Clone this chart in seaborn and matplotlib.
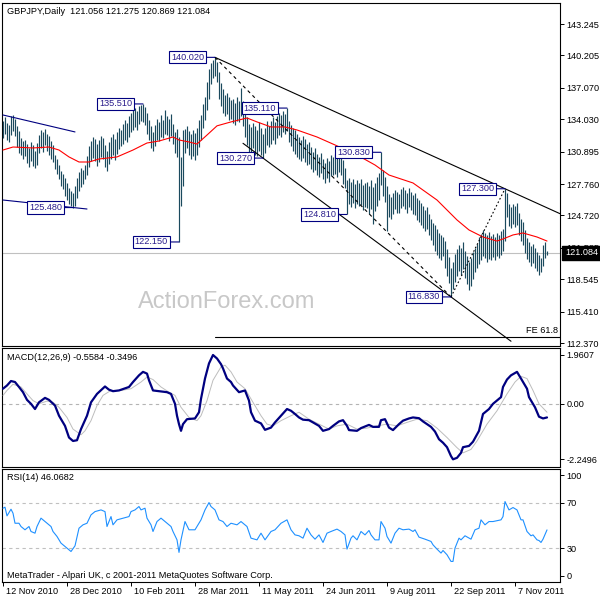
import numpy as np
import pandas as pd
import matplotlib
matplotlib.use("Agg")
import matplotlib.pyplot as plt
import seaborn as sns

# ---------------- data ----------------
high = [
    133.9, 134.2, 133.7, 133.5, 134.3, 134.4, 134.1, 133.4, 132.9, 132.2,
    131.9, 132.0, 131.6, 131.2, 131.8, 131.5, 131.0, 131.7, 132.5, 133.0,
    132.8, 133.1, 132.6, 132.4, 131.9, 131.5, 130.6, 130.2, 129.6, 129.0,
    128.7, 128.3, 127.9, 127.4, 127.1, 126.9, 127.6, 128.3, 128.9, 129.3,
    129.1, 129.6, 130.5, 131.4, 131.9, 132.3, 132.1, 131.6, 132.0, 132.4,
    132.2, 131.5, 131.0, 131.8, 132.3, 132.6, 132.1, 132.8, 133.2, 133.0,
    133.6, 134.0, 133.7, 134.3, 134.6, 134.9, 135.1, 134.8, 135.3, 135.4,
    135.51, 135.2, 134.6, 134.0, 133.4, 132.8, 133.5, 134.1, 133.8, 134.4,
    134.0, 134.9, 134.3, 134.1, 134.5, 133.6, 132.8, 133.1, 132.3, 130.4,
    133.0, 133.1, 133.4, 132.9, 132.6, 133.0, 132.7, 133.2, 134.0, 134.4,
    135.5, 136.2, 137.6, 138.9, 139.5, 139.8, 140.02, 139.6, 138.6, 137.5,
    137.0, 136.4, 136.6, 136.2, 135.9, 136.0, 135.6, 136.2, 135.8, 137.05,
    135.8, 135.0, 134.2, 133.6, 133.3, 133.7, 133.4, 133.0, 133.8, 133.2,
    132.6, 133.2, 133.9, 133.4, 133.9, 134.2, 133.8, 134.3, 134.6, 134.4,
    134.8, 134.5, 135.11, 133.9, 133.5, 133.2, 133.0, 132.6, 132.3, 132.0,
    132.4, 132.1, 131.6, 131.8, 131.3, 130.9, 131.2, 130.7, 130.4, 130.8,
    130.2, 129.8, 130.3, 130.0, 130.6, 130.4, 130.7, 130.5, 130.8, 130.6,
    130.1, 129.3, 128.1, 128.3, 128.0, 128.2, 127.8, 128.1, 127.9, 128.2,
    127.7, 127.9, 128.0, 127.6, 128.1, 127.5, 127.9, 128.4, 128.8, 130.83,
    129.1, 128.4, 127.6, 126.8, 126.5, 126.9, 127.2, 127.0, 126.8, 127.3,
    127.5, 127.2, 126.9, 127.4, 127.0, 126.7, 126.9, 126.4, 126.2, 125.9,
    125.6, 125.2, 125.5, 124.9, 124.4, 124.0, 123.8, 123.4, 123.0, 122.8,
    122.6, 122.2, 121.5, 120.7, 119.6, 120.2, 121.0, 121.5, 121.9, 121.6,
    122.1, 121.3, 120.8, 120.2, 120.6, 121.2, 121.6, 122.0, 122.6, 122.9,
    123.3, 123.0, 122.8, 123.1, 122.7, 122.9, 122.6, 123.0, 122.8, 123.2,
    123.4, 127.30, 126.9, 125.8, 125.5, 125.8, 125.6, 125.9, 125.0, 124.4,
    124.1, 123.3, 122.5, 122.1, 121.8, 122.0, 121.6, 121.2, 120.9, 120.6,
    121.9, 122.1, 121.275,
]
low = [
    132.2, 132.6, 132.0, 131.8, 132.5, 132.9, 132.4, 131.3, 130.8, 130.6,
    130.2, 130.5, 129.8, 129.4, 130.0, 129.5, 129.3, 129.6, 130.8, 131.2,
    130.9, 131.5, 131.0, 130.6, 130.2, 129.9, 129.2, 128.7, 128.2, 127.6,
    127.3, 126.6, 126.2, 125.8, 125.6, 125.48, 125.6, 126.4, 127.1, 127.5,
    127.8, 128.2, 128.6, 129.4, 130.0, 130.3, 130.0, 129.5, 129.9, 130.4,
    130.2, 129.4, 129.0, 129.7, 130.2, 130.6, 130.1, 130.7, 131.1, 131.4,
    131.6, 132.0, 131.8, 132.3, 132.8, 133.0, 133.3, 133.0, 133.6, 133.9,
    133.8, 133.5, 132.6, 132.0, 131.2, 131.0, 131.4, 132.0, 131.9, 132.3,
    132.2, 132.6, 132.5, 131.9, 132.4, 131.6, 130.8, 130.4, 122.15, 125.6,
    127.6, 130.8, 131.2, 130.6, 130.2, 130.5, 130.1, 130.6, 131.3, 132.0,
    133.2, 134.0, 134.9, 136.0, 137.4, 138.0, 138.2, 137.6, 136.0, 135.3,
    134.6, 134.3, 134.5, 134.0, 134.1, 133.7, 133.5, 133.9, 133.8, 134.3,
    133.4, 132.3, 131.5, 130.9, 130.8, 131.2, 130.6, 130.5, 131.0, 130.6,
    130.27, 130.8, 131.5, 131.3, 131.6, 132.0, 131.6, 132.2, 132.5, 132.3,
    132.8, 132.6, 132.9, 131.8, 131.4, 131.0, 130.7, 130.4, 130.2, 130.0,
    130.3, 129.9, 129.6, 129.7, 129.2, 128.9, 129.1, 128.6, 128.4, 128.8,
    128.2, 127.9, 128.3, 128.0, 128.5, 128.6, 128.7, 128.4, 128.9, 128.6,
    127.8, 127.4, 124.81, 125.8, 125.5, 125.9, 125.4, 125.8, 125.6, 125.7,
    125.2, 125.5, 125.4, 124.9, 125.3, 123.9, 125.1, 125.6, 126.2, 127.7,
    126.6, 126.0, 123.2, 124.6, 124.4, 124.9, 125.3, 125.0, 125.0, 125.4,
    125.6, 125.3, 125.0, 125.5, 125.2, 124.9, 124.8, 124.3, 124.1, 123.8,
    123.5, 123.2, 123.4, 122.8, 122.3, 121.9, 121.3, 120.9, 120.6, 120.4,
    120.8, 119.6, 118.9, 118.2, 116.83, 117.6, 118.3, 118.9, 119.3, 119.0,
    119.5, 118.7, 118.1, 117.5, 117.9, 118.6, 119.2, 119.6, 120.0, 120.4,
    120.8, 120.6, 120.2, 120.5, 120.4, 120.7, 120.4, 120.8, 120.6, 120.9,
    121.3, 122.2, 124.6, 123.7, 123.5, 123.9, 123.6, 123.8, 122.8, 122.2,
    121.9, 121.1, 120.5, 120.2, 119.8, 120.1, 119.6, 119.3, 119.0, 119.2,
    119.8, 120.6, 120.869,
]

ma_bar = [0, 5, 15, 23, 28, 33, 38, 43, 48, 57, 65, 72, 78, 85, 88, 93, 97, 102, 107, 114,
          122, 127, 134, 141, 147, 157, 166, 177, 186, 193, 205, 217, 227, 233, 240, 247,
          250, 255, 260, 267, 272]
ma_val = [131.05, 131.34, 131.25, 131.34, 131.05, 130.38, 129.89, 129.89, 130.18, 130.38,
          131.05, 131.73, 131.92, 132.31, 132.02, 131.83, 131.63, 132.5, 133.39, 133.77,
          134.15, 133.77, 133.28, 133.28, 132.99, 132.31, 131.54, 130.57, 129.6, 128.63,
          127.86, 126.21, 124.28, 123.31, 122.63, 122.24, 122.44, 122.83, 123.02, 122.63,
          122.24]

macd_bar = [0, 2, 4, 6, 8, 10, 12, 14, 16, 18, 21, 23, 26, 28, 31, 33, 35, 37, 39, 42,
            44, 47, 51, 53, 55, 58, 63, 65, 68, 70, 72, 73, 75, 78, 82, 84, 86, 87, 88, 89,
            90, 92, 96, 98, 99, 101, 103, 105, 107, 109, 110, 112, 114, 115, 118, 121, 123, 124,
            126, 129, 131, 134, 136, 139, 142, 144, 146, 148,
            150, 153, 155, 158, 160, 163, 165, 168, 170, 172, 173, 177, 179, 183, 185, 188,
            189, 191, 193, 195, 198, 200, 203, 205, 208, 210, 214, 216, 218, 220, 222, 224,
            225, 227, 229, 230, 233, 235, 238, 240, 243, 245, 249, 250, 252, 254, 257, 259,
            262, 263, 266, 268, 270, 272]
macd_val = [0.60, 0.73, 0.91, 0.87, 0.67, 0.46, 0.15, -0.01, -0.22, 0.05, 0.23, 0.15, -0.08,
            -0.49, -0.90, -1.37, -1.51, -1.48, -1.03, -0.49,
            0.05, 0.39, 0.69, 0.56, 0.50, 0.53, 0.67, 0.87, 1.14, 1.28, 1.21, 0.94, 0.53, 0.50,
            0.46, 0.39, -0.01, -0.49, -0.83, -1.10,
            -0.83, -0.63, -0.60, -0.35, 0.19, 1.01, 1.62, 1.96, 1.82, 1.59, 1.42, 1.01, 0.87,
            0.73, 0.46, 0.53, 0.12, -0.35,
            -0.69, -0.80, -1.06, -0.97, -0.76, -0.49, -0.22, -0.29, -0.42, -0.56,
            -0.65, -0.67, -0.76, -0.90, -1.10, -1.03, -0.90, -0.72, -0.67, -0.90, -1.07, -1.10,
            -0.99, -0.86, -0.94, -0.94,
            -0.67, -0.63, -0.97, -1.07, -0.83, -0.69, -0.60, -0.56, -0.59, -0.72, -0.94, -1.13,
            -1.44, -1.58, -1.76, -2.12,
            -2.25, -2.19, -1.99, -1.76, -1.71, -1.54, -1.10, -0.42, -0.22, -0.01, 0.26, 0.67,
            0.97, 1.14, 1.28, 1.01,
            0.60, 0.26, -0.15, -0.53, -0.60, -0.56]

sig_bar = [0, 2, 5, 9, 12, 15, 18, 22, 25, 28, 32, 35, 39, 41, 44, 47, 50, 54, 59, 64,
           69, 72, 75, 79, 83, 86, 89, 93, 97, 99, 102, 105, 109, 111, 114, 117, 121, 125, 129, 132,
           135, 139, 144, 148, 153, 158, 163, 167, 172, 177, 182, 187, 192, 197, 202, 207, 212, 217,
           222, 227, 230, 234, 237, 242, 247, 252, 256, 259, 262, 265, 268, 272]
sig_val = [0.33, 0.53, 0.78, 0.67, 0.39, 0.12, -0.01, 0.10, 0.05, -0.15,
           -0.56, -1.03, -1.26, -1.10, -0.69, -0.08, 0.33, 0.53, 0.53, 0.60,
           0.87, 1.07, 0.97, 0.67, 0.46, 0.33, -0.15, -0.56, -0.69, -0.49,
           0.12, 0.94, 1.48, 1.55, 1.28, 0.87, 0.60, 0.05, -0.49, -0.83,
           -0.90, -0.69, -0.49, -0.35, -0.63, -0.83, -1.03, -0.90, -0.83, -1.03,
           -0.99, -0.90, -0.83, -0.90, -0.76, -0.63, -0.69, -0.99, -1.37, -1.78,
           -1.99, -1.85, -1.51, -0.83, -0.29, 0.39, 0.87, 1.10, 1.01, 0.53,
           -0.01, -0.35]

rsi_bar = [0, 1, 2, 4, 5, 6, 8, 9, 11, 13, 14, 16, 17, 19, 21, 24, 25, 27, 29, 32,
           34, 36, 38, 40, 42, 44, 46, 49, 51, 52, 54, 55, 57, 60, 63, 64, 66, 68, 69, 71,
           72, 74, 75, 77, 79, 82, 84, 85, 87, 88, 89, 91, 93, 96, 99, 101, 103, 104, 106, 108,
           110, 112, 114, 117, 119, 122, 124, 127, 129, 131, 134, 136, 139, 142, 144, 146, 148,
           150, 152, 154, 156, 158, 160, 162, 164, 167, 169, 171, 172, 174, 175, 177, 179, 181,
           183, 184, 186, 188, 189, 191, 192, 194, 196, 198, 200, 203, 205, 206, 208, 211, 214,
           215, 217, 219, 220, 222, 224, 225, 226, 228, 229, 231, 234, 236, 238, 239, 241, 243,
           245, 249, 250, 251, 253, 255, 257, 259, 260, 262, 264, 265, 267, 268, 269, 270, 272]
rsi_val = [65.3, 66.2, 58.5, 64.4, 60.9, 52.0, 52.0, 49.1, 46.2, 49.1, 44.7, 43.2, 49.1, 56.5,
           53.5, 49.1, 44.7, 40.3, 34.4, 30.0,
           27.0, 32.0, 47.6, 50.6, 52.0, 59.4, 62.3, 63.8, 62.3, 49.1, 57.9, 50.6, 55.0, 56.5,
           57.9, 62.3, 63.8, 66.8, 63.8, 65.3,
           56.5, 50.6, 44.7, 53.5, 56.5, 52.0, 49.1, 44.7, 37.3, 26.2, 37.3, 53.5, 46.2, 46.2,
           55.0, 63.8, 70.3, 66.8, 63.8, 55.0,
           53.5, 49.1, 52.0, 50.6, 53.5, 49.1, 38.8, 37.3, 43.2, 37.3, 44.7, 46.2, 52.0, 55.0,
           46.2, 41.7, 40.9,
           38.8, 47.6, 41.7, 37.9, 41.7, 35.0, 43.2, 44.7, 46.8, 44.7, 41.7, 29.1, 38.8, 40.9,
           37.3, 44.7, 41.7,
           45.6, 41.7, 37.3, 37.3, 53.5, 47.6, 40.3, 34.4, 43.2, 47.6, 46.2, 46.8, 44.7, 46.2,
           39.7, 37.9, 35.9,
           32.9, 29.1, 25.6, 27.9, 24.1, 18.2, 18.2, 30.0, 38.8, 37.3, 40.9, 37.9, 46.2, 47.6,
           55.0, 50.6, 53.5,
           53.5, 55.0, 57.9, 71.2, 63.8, 65.9, 63.8, 55.0, 55.0, 44.7, 40.9, 41.7, 37.3, 36.7,
           35.0, 37.9, 46.1]

pivot_bar = [106, 70, 142, 130, 35, 88, 189, 172, 224, 251]
pivot_price = [140.02, 135.51, 135.11, 130.27, 125.48, 122.15, 130.83, 124.81, 116.83, 127.30]

date_tick_bar = [0, 32, 64, 96, 128, 160, 192, 224, 256]
date_tick_label = ["12 Nov 2010", "28 Dec 2010", "10 Feb 2011", "28 Mar 2011", "11 May 2011",
                   "24 Jun 2011", "9 Aug 2011", "22 Sep 2011", "7 Nov 2011"]
price_ticks = [143.245, 140.205, 137.070, 134.030, 130.895, 127.760, 124.720, 121.585,
               118.545, 115.410, 112.370]
macd_ticks = [1.9607, 0.0, -2.2496]
macd_tick_label = ["1.9607", "0.00", "-2.2496"]
rsi_levels = [70, 30]
rsi_tick_label = ["100", "70", "30", "0"]

# user drawn objects (bar indices / prices)
blue_upper_bar, blue_upper_price = [0, 36], [134.44, 132.8]
blue_lower_bar, blue_lower_price = [0, 42], [126.21, 125.34]
lower_channel_span = [120, 254]
fe_level = 112.97
last_close = 121.084
title = "GBPJPY,Daily  121.056 121.275 120.869 121.084"
macd_title = "MACD(12,26,9) -0.5584 -0.3496"
rsi_title = "RSI(14) 46.0682"
footer = "MetaTrader - Alpari UK, c 2001-2011 MetaQuotes Software Corp."

# ---------------- styling ----------------
sns.set_style("white")
plt.rcParams['font.family'] = ['Liberation Sans', 'DejaVu Sans']
FS = 6.6
BAR_C = "#1b4a5e"
NAVY = "#000080"
LABEL_TXT = "#2b1d8c"

W = H = 600
fig = plt.figure(figsize=(6, 6), dpi=100)


def rect(top, bottom):
    return [2 / W, 1 - bottom / H, 558 / W, (bottom - top) / H]


ax1 = fig.add_axes(rect(3, 346))
ax2 = fig.add_axes(rect(348, 467))
ax3 = fig.add_axes(rect(469, 582))

XMIN, XMAX = -0.5, 278.5
for ax in (ax1, ax2, ax3):
    ax.set_xlim(XMIN, XMAX)
    ax.set_facecolor("white")
    for s in ax.spines.values():
        s.set_color("black")
        s.set_linewidth(0.8)
    ax.yaxis.tick_right()
    ax.tick_params(axis='y', which='both', right=True, left=False, length=3, width=0.7,
                   pad=1.5, labelsize=FS, colors='black', direction='out')
    ax.tick_params(axis='x', bottom=False, labelbottom=False)
    ax.set_xlabel("")
    ax.set_ylabel("")

# ---------------- price panel ----------------
bars = pd.DataFrame({"bar": np.arange(len(high)), "high": high, "low": low})
ax1.set_ylim(112.08, 145.28)
ax1.axhline(last_close, color="#c0c0c0", lw=0.8, zorder=1)
ax1.vlines(bars["bar"], bars["low"], bars["high"], color=BAR_C, lw=0.85,
           antialiased=True, zorder=3)
sns.lineplot(x=ma_bar, y=ma_val, ax=ax1, color="red", lw=0.8, zorder=4)

# channel lines
b1, p1 = pivot_bar[0], pivot_price[0]
b2, p2 = pivot_bar[9], pivot_price[9]
slope_u = (p2 - p1) / (b2 - b1)
ax1.plot([b1, XMAX], [p1, p1 + slope_u * (XMAX - b1)], color="black", lw=0.8, zorder=5)
b3, p3 = pivot_bar[3], pivot_price[3]
b4, p4 = pivot_bar[8], pivot_price[8]
slope_l = (p4 - p3) / (b4 - b3)
ax1.plot(lower_channel_span,
         [p3 + slope_l * (lower_channel_span[0] - b3), p3 + slope_l * (lower_channel_span[1] - b3)],
         color="black", lw=0.8, zorder=5)
ax1.plot([b1, b4], [p1, p4], color="black", lw=0.8, ls=(0, (3, 3)), zorder=5)
ax1.plot([b4, b2], [p4, p2], color="black", lw=0.8, ls=(0, (1.5, 2)), zorder=5)
ax1.plot(blue_upper_bar, blue_upper_price, color=NAVY, lw=0.8, zorder=5)
ax1.plot(blue_lower_bar, blue_lower_price, color=NAVY, lw=0.8, zorder=5)
ax1.plot([b1, XMAX], [fe_level, fe_level], color="black", lw=0.8, zorder=5)
ax1.annotate("FE 61.8", xy=(1, fe_level), xycoords=("axes fraction", "data"),
             xytext=(-2, 2), textcoords="offset pixels", ha="right", va="bottom",
             fontsize=FS, color="black")

for b, p in zip(pivot_bar, pivot_price):
    ax1.annotate(f"{p:.3f}", xy=(b, p), xytext=(-11, 0), textcoords="offset pixels",
                 ha="right", va="center", fontsize=FS, color=LABEL_TXT, zorder=8,
                 bbox=dict(boxstyle="square,pad=0.18", fc="white", ec=NAVY, lw=0.8),
                 arrowprops=dict(arrowstyle="-", color=NAVY, lw=0.8, shrinkA=0, shrinkB=0))

ax1.set_yticks(price_ticks)
ax1.set_yticklabels([f"{v:.3f}" for v in price_ticks])
ax1.annotate(f"{last_close:.3f}", xy=(1, last_close), xycoords=("axes fraction", "data"),
             xytext=(5, 0), textcoords="offset pixels", ha="left", va="center",
             fontsize=FS, color="white", annotation_clip=False, zorder=20,
             bbox=dict(boxstyle="square,pad=0.3", fc="black", ec="black"))
ax1.text(0.403, 0.128, "ActionForex.com", transform=ax1.transAxes, ha="center",
         va="center", fontsize=17, color="#c8c8c8", zorder=0)

# ---------------- MACD panel ----------------
ax2.set_ylim(-2.56, 2.243)
ax2.axhline(0, color="#b4b4b4", lw=0.8, ls=(0, (3, 3)), zorder=1)
sns.lineplot(x=sig_bar, y=sig_val, ax=ax2, color="#bdbdbd", lw=0.7, zorder=3)
sns.lineplot(x=macd_bar, y=macd_val, ax=ax2, color=NAVY, lw=1.6, zorder=4)
ax2.set_yticks(macd_ticks)
ax2.set_yticklabels(macd_tick_label)

# ---------------- RSI panel ----------------
ax3.set_ylim(0, 100)
for lv in rsi_levels:
    ax3.axhline(lv, color="#c0c0c0", lw=0.8, ls=(0, (3, 3)), zorder=1)
sns.lineplot(x=rsi_bar, y=rsi_val, ax=ax3, color="#1e90ff", lw=0.8, zorder=3)
ax3.set_yticks([94.6, 70, 30, 5.4])
ax3.set_yticklabels(rsi_tick_label)

ax3.set_xticks(date_tick_bar)
ax3.tick_params(axis='x', bottom=True, labelbottom=False, length=3, width=0.7,
                direction='out', colors='black')
for b, lab in zip(date_tick_bar, date_tick_label):
    ax3.annotate(lab, xy=(b, 0), xycoords=("data", "axes fraction"), xytext=(3, -9),
                 textcoords="offset pixels", ha="left", va="center", fontsize=FS,
                 color="black", annotation_clip=False)

for ax in (ax1, ax2, ax3):
    ax.set_xlabel("")
    ax.set_ylabel("")
    if ax.get_legend():
        ax.get_legend().remove()

# panel captions
fig.text(7 / W, 1 - 11 / H, title, ha="left", va="center", fontsize=FS, color="black")
fig.text(7 / W, 1 - 358 / H, macd_title, ha="left", va="center", fontsize=FS, color="black")
fig.text(7 / W, 1 - 478 / H, rsi_title, ha="left", va="center", fontsize=FS, color="black")
fig.text(7 / W, 1 - 575 / H, footer, ha="left", va="center", fontsize=FS, color="black")

fig.savefig("out.png", dpi=100)
